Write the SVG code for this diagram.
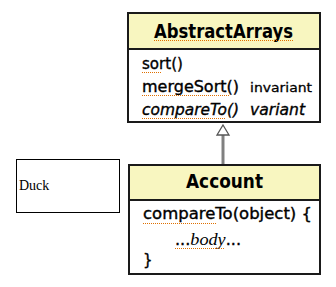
<svg xmlns="http://www.w3.org/2000/svg" width="336" height="287" viewBox="0 0 336 287">
<style>
.box{fill:#ffffff;stroke:#1a1a1a;stroke-width:2}
.hdr{fill:#f8f6c0;stroke:#1a1a1a;stroke-width:2}
.title{font-family:"DejaVu Sans",sans-serif;font-weight:bold;font-size:19px;fill:#000}
.m{font-family:"DejaVu Sans",sans-serif;font-size:15px;fill:#000;stroke:#000;stroke-width:0.35}
.s{font-family:"DejaVu Sans",sans-serif;font-size:13px;fill:#000;stroke:#000;stroke-width:0.3}
.sq{stroke:#e07000;stroke-width:1;stroke-dasharray:1 1;fill:none}
</style>
<g id="duck">
<rect x="16.5" y="159.5" width="103" height="53" fill="#fff" stroke="#000" stroke-width="1"/>
<text x="19" y="190" font-family="Liberation Serif,serif" font-size="14">Duck</text>
</g>
<g id="connectors">
<line x1="223" y1="164" x2="223" y2="135" stroke="#808080" stroke-width="3"/>
<polygon points="223,125 229,135 217,135" fill="#fff" stroke="#555" stroke-width="1.3"/>
</g>
<g id="abstractarrays">
<rect class="box" x="128" y="13" width="192" height="109"/>
<rect class="hdr" x="128" y="13" width="192" height="36"/>
<text class="title" x="154" y="38" textLength="139" lengthAdjust="spacingAndGlyphs">AbstractArrays</text>
<line class="sq" x1="154" y1="40.5" x2="293" y2="40.5"/>
<text class="m" x="142" y="69" textLength="41" lengthAdjust="spacingAndGlyphs">sort()</text>
<line class="sq" x1="142" y1="72.5" x2="162" y2="72.5"/>
<text class="m" x="142" y="92" textLength="97" lengthAdjust="spacingAndGlyphs">mergeSort()</text>
<line class="sq" x1="142" y1="95.5" x2="229" y2="95.5"/>
<text class="s" x="250" y="92" textLength="62" lengthAdjust="spacingAndGlyphs">invariant</text>
<text class="m" x="142" y="115" font-style="italic" textLength="97" lengthAdjust="spacingAndGlyphs">compareTo()</text>
<line class="sq" x1="142" y1="118.5" x2="226" y2="118.5"/>
<text class="m" x="250" y="115" font-style="italic" textLength="55" lengthAdjust="spacingAndGlyphs">variant</text>
</g>
<g id="account">
<rect class="box" x="129" y="165" width="191" height="109"/>
<rect class="hdr" x="129" y="165" width="191" height="35"/>
<text class="title" x="186" y="188" textLength="77" lengthAdjust="spacingAndGlyphs">Account</text>
<text class="m" x="143" y="219" textLength="169" lengthAdjust="spacingAndGlyphs">compareTo(object)  {</text>
<line class="sq" x1="143" y1="223.5" x2="217" y2="223.5"/>
<text x="175" y="245" font-family="DejaVu Sans,sans-serif" font-size="15" stroke="#000" stroke-width="0.35" textLength="66" lengthAdjust="spacingAndGlyphs">...<tspan font-family="Liberation Serif,serif" font-style="italic" font-size="17" stroke-width="0">body</tspan>...</text>
<line class="sq" x1="175" y1="248.5" x2="224" y2="248.5"/>
<text class="m" x="143" y="265">}</text>
</g>
</svg>
